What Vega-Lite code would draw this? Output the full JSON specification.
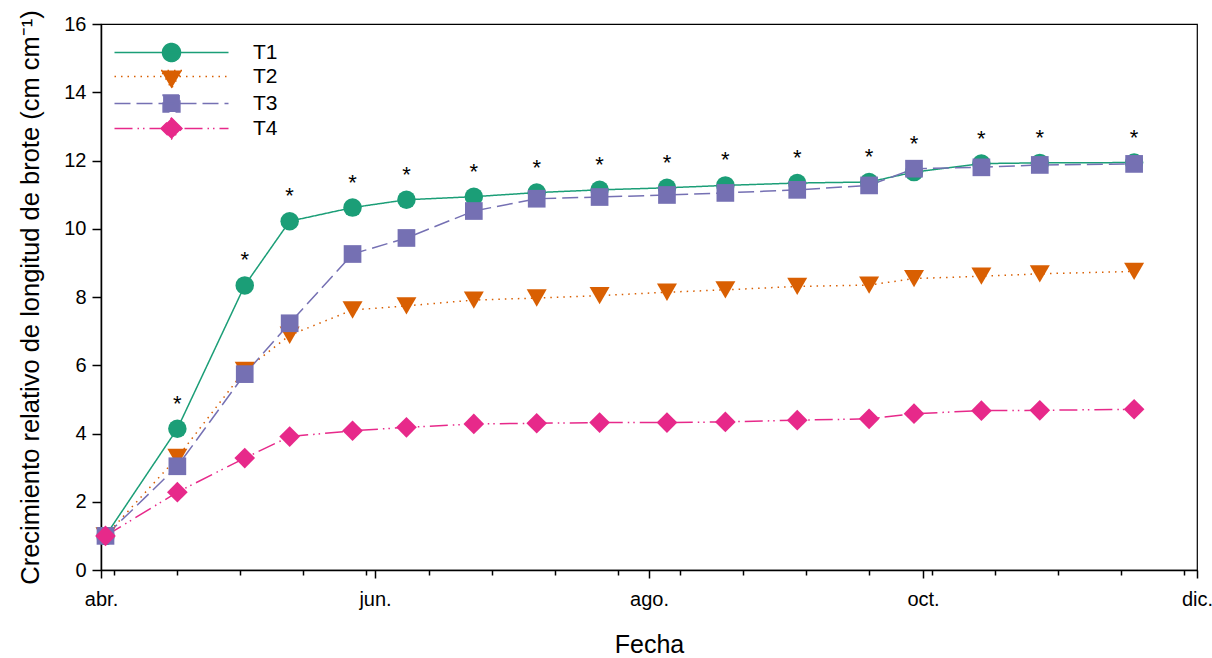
{
  "$schema": "https://vega.github.io/schema/vega-lite/v6.json",
  "width": 1096,
  "height": 546,
  "autosize": {"type": "none"},
  "padding": {"left": 101, "top": 24, "right": 15, "bottom": 88},
  "background": "white",
  "config": {
    "font": "Liberation Sans",
    "view": {"stroke": "black", "strokeWidth": 1.2},
    "axis": {
      "grid": false,
      "domainColor": "black",
      "domainWidth": 1.5,
      "tickColor": "black",
      "tickWidth": 1.5,
      "labelColor": "black",
      "labelFont": "Liberation Sans",
      "labelFontSize": 20,
      "titleFont": "Liberation Sans",
      "titleFontSize": 25,
      "titleFontWeight": "normal",
      "titleColor": "black"
    }
  },
  "data": {
    "values": [
      {"fecha": "2021-04-02T00:00", "trat": "T1", "valor": 1.0, "sig": ""},
      {"fecha": "2021-04-18T00:00", "trat": "T1", "valor": 4.14, "sig": "*"},
      {"fecha": "2021-05-03T00:00", "trat": "T1", "valor": 8.34, "sig": "*"},
      {"fecha": "2021-05-13T00:00", "trat": "T1", "valor": 10.22, "sig": "*"},
      {"fecha": "2021-05-27T00:00", "trat": "T1", "valor": 10.62, "sig": "*"},
      {"fecha": "2021-06-08T00:00", "trat": "T1", "valor": 10.85, "sig": "*"},
      {"fecha": "2021-06-23T00:00", "trat": "T1", "valor": 10.94, "sig": "*"},
      {"fecha": "2021-07-07T00:00", "trat": "T1", "valor": 11.06, "sig": "*"},
      {"fecha": "2021-07-21T00:00", "trat": "T1", "valor": 11.14, "sig": "*"},
      {"fecha": "2021-08-05T00:00", "trat": "T1", "valor": 11.2, "sig": "*"},
      {"fecha": "2021-08-18T00:00", "trat": "T1", "valor": 11.27, "sig": "*"},
      {"fecha": "2021-09-03T00:00", "trat": "T1", "valor": 11.34, "sig": "*"},
      {"fecha": "2021-09-19T00:00", "trat": "T1", "valor": 11.37, "sig": "*"},
      {"fecha": "2021-09-29T00:00", "trat": "T1", "valor": 11.66, "sig": "*"},
      {"fecha": "2021-10-14T00:00", "trat": "T1", "valor": 11.91, "sig": "*"},
      {"fecha": "2021-10-27T00:00", "trat": "T1", "valor": 11.93, "sig": "*"},
      {"fecha": "2021-11-17T00:00", "trat": "T1", "valor": 11.94, "sig": "*"},

      {"fecha": "2021-04-02T00:00", "trat": "T2", "valor": 1.0, "sig": ""},
      {"fecha": "2021-04-18T00:00", "trat": "T2", "valor": 3.3, "sig": ""},
      {"fecha": "2021-05-03T00:00", "trat": "T2", "valor": 5.85, "sig": ""},
      {"fecha": "2021-05-13T00:00", "trat": "T2", "valor": 6.88, "sig": ""},
      {"fecha": "2021-05-27T00:00", "trat": "T2", "valor": 7.62, "sig": ""},
      {"fecha": "2021-06-08T00:00", "trat": "T2", "valor": 7.74, "sig": ""},
      {"fecha": "2021-06-23T00:00", "trat": "T2", "valor": 7.91, "sig": ""},
      {"fecha": "2021-07-07T00:00", "trat": "T2", "valor": 7.97, "sig": ""},
      {"fecha": "2021-07-21T00:00", "trat": "T2", "valor": 8.04, "sig": ""},
      {"fecha": "2021-08-05T00:00", "trat": "T2", "valor": 8.14, "sig": ""},
      {"fecha": "2021-08-18T00:00", "trat": "T2", "valor": 8.21, "sig": ""},
      {"fecha": "2021-09-03T00:00", "trat": "T2", "valor": 8.31, "sig": ""},
      {"fecha": "2021-09-19T00:00", "trat": "T2", "valor": 8.35, "sig": ""},
      {"fecha": "2021-09-29T00:00", "trat": "T2", "valor": 8.54, "sig": ""},
      {"fecha": "2021-10-14T00:00", "trat": "T2", "valor": 8.61, "sig": ""},
      {"fecha": "2021-10-27T00:00", "trat": "T2", "valor": 8.68, "sig": ""},
      {"fecha": "2021-11-17T00:00", "trat": "T2", "valor": 8.75, "sig": ""},

      {"fecha": "2021-04-02T00:00", "trat": "T3", "valor": 1.0, "sig": ""},
      {"fecha": "2021-04-18T00:00", "trat": "T3", "valor": 3.04, "sig": ""},
      {"fecha": "2021-05-03T00:00", "trat": "T3", "valor": 5.74, "sig": ""},
      {"fecha": "2021-05-13T00:00", "trat": "T3", "valor": 7.23, "sig": ""},
      {"fecha": "2021-05-27T00:00", "trat": "T3", "valor": 9.26, "sig": ""},
      {"fecha": "2021-06-08T00:00", "trat": "T3", "valor": 9.73, "sig": ""},
      {"fecha": "2021-06-23T00:00", "trat": "T3", "valor": 10.52, "sig": ""},
      {"fecha": "2021-07-07T00:00", "trat": "T3", "valor": 10.88, "sig": ""},
      {"fecha": "2021-07-21T00:00", "trat": "T3", "valor": 10.93, "sig": ""},
      {"fecha": "2021-08-05T00:00", "trat": "T3", "valor": 10.99, "sig": ""},
      {"fecha": "2021-08-18T00:00", "trat": "T3", "valor": 11.05, "sig": ""},
      {"fecha": "2021-09-03T00:00", "trat": "T3", "valor": 11.14, "sig": ""},
      {"fecha": "2021-09-19T00:00", "trat": "T3", "valor": 11.27, "sig": ""},
      {"fecha": "2021-09-29T00:00", "trat": "T3", "valor": 11.76, "sig": ""},
      {"fecha": "2021-10-14T00:00", "trat": "T3", "valor": 11.8, "sig": ""},
      {"fecha": "2021-10-27T00:00", "trat": "T3", "valor": 11.87, "sig": ""},
      {"fecha": "2021-11-17T00:00", "trat": "T3", "valor": 11.9, "sig": ""},

      {"fecha": "2021-04-02T00:00", "trat": "T4", "valor": 1.0, "sig": ""},
      {"fecha": "2021-04-18T00:00", "trat": "T4", "valor": 2.28, "sig": ""},
      {"fecha": "2021-05-03T00:00", "trat": "T4", "valor": 3.28, "sig": ""},
      {"fecha": "2021-05-13T00:00", "trat": "T4", "valor": 3.91, "sig": ""},
      {"fecha": "2021-05-27T00:00", "trat": "T4", "valor": 4.08, "sig": ""},
      {"fecha": "2021-06-08T00:00", "trat": "T4", "valor": 4.18, "sig": ""},
      {"fecha": "2021-06-23T00:00", "trat": "T4", "valor": 4.28, "sig": ""},
      {"fecha": "2021-07-07T00:00", "trat": "T4", "valor": 4.3, "sig": ""},
      {"fecha": "2021-07-21T00:00", "trat": "T4", "valor": 4.32, "sig": ""},
      {"fecha": "2021-08-05T00:00", "trat": "T4", "valor": 4.32, "sig": ""},
      {"fecha": "2021-08-18T00:00", "trat": "T4", "valor": 4.34, "sig": ""},
      {"fecha": "2021-09-03T00:00", "trat": "T4", "valor": 4.39, "sig": ""},
      {"fecha": "2021-09-19T00:00", "trat": "T4", "valor": 4.43, "sig": ""},
      {"fecha": "2021-09-29T00:00", "trat": "T4", "valor": 4.58, "sig": ""},
      {"fecha": "2021-10-14T00:00", "trat": "T4", "valor": 4.67, "sig": ""},
      {"fecha": "2021-10-27T00:00", "trat": "T4", "valor": 4.68, "sig": ""},
      {"fecha": "2021-11-17T00:00", "trat": "T4", "valor": 4.71, "sig": ""}
    ]
  },
  "encoding": {
    "x": {
      "field": "fecha",
      "type": "temporal",
      "title": "Fecha",
      "scale": {
        "domain": [
          {"year": 2021, "month": 4, "date": 1},
          {"year": 2021, "month": 12, "date": 1}
        ],
        "nice": false
      },
      "axis": {
        "values": [
          {"year": 2021, "month": 4, "date": 1},
          {"year": 2021, "month": 4, "date": 4},
          {"year": 2021, "month": 4, "date": 18},
          {"year": 2021, "month": 5, "date": 2},
          {"year": 2021, "month": 5, "date": 16},
          {"year": 2021, "month": 5, "date": 30},
          {"year": 2021, "month": 6, "date": 1},
          {"year": 2021, "month": 6, "date": 13},
          {"year": 2021, "month": 6, "date": 27},
          {"year": 2021, "month": 7, "date": 11},
          {"year": 2021, "month": 7, "date": 25},
          {"year": 2021, "month": 8, "date": 1},
          {"year": 2021, "month": 8, "date": 8},
          {"year": 2021, "month": 8, "date": 22},
          {"year": 2021, "month": 9, "date": 5},
          {"year": 2021, "month": 9, "date": 19},
          {"year": 2021, "month": 10, "date": 1},
          {"year": 2021, "month": 10, "date": 3},
          {"year": 2021, "month": 10, "date": 17},
          {"year": 2021, "month": 10, "date": 31},
          {"year": 2021, "month": 11, "date": 14},
          {"year": 2021, "month": 11, "date": 28},
          {"year": 2021, "month": 12, "date": 1}
        ],
        "labelExpr": "date(datum.value) === 1 ? ['ene.','feb.','mar.','abr.','may.','jun.','jul.','ago.','sep.','oct.','nov.','dic.'][month(datum.value)] : ''",
        "labelOverlap": false,
        "labelFlush": false,
        "tickSize": {"condition": {"test": "date(datum.value) === 1", "value": 8}, "value": 5},
        "labelPadding": 11,
        "titlePadding": 23
      }
    },
    "y": {
      "field": "valor",
      "type": "quantitative",
      "title": "Crecimiento relativo de longitud de brote (cm cm⁻¹)",
      "scale": {"domain": [0, 16], "nice": false, "zero": true},
      "axis": {
        "values": [0, 2, 4, 6, 8, 10, 12, 14, 16],
        "tickSize": 9,
        "labelPadding": 6,
        "titlePadding": 20,
        "titleFontSize": 25.5
      }
    }
  },
  "layer": [
    {
      "mark": {"type": "line", "strokeWidth": 1.5},
      "encoding": {
        "color": {
          "field": "trat",
          "type": "nominal",
          "scale": {"domain": ["T1", "T2", "T3", "T4"], "range": ["#1b9e77", "#d95f02", "#7570b3", "#e7298a"]},
          "legend": {
            "title": null,
            "orient": "none",
            "legendX": 60,
            "legendY": 18,
            "padding": 0,
            "symbolSize": 4,
            "labelFont": "Liberation Sans",
            "labelFontSize": 21,
            "labelColor": "black",
            "labelOffset": 71,
            "rowPadding": 0,
            "encode": {
              "symbols": {
                "update": {
                  "shape": {"signal": "datum.value === 'T1' ? 'M-57,0H57M9,0A9,9 0 1 1 -9,0A9,9 0 1 1 9,0Z' : datum.value === 'T2' ? 'M-57,0H57M-10.5,-6H10.5L0,12Z' : datum.value === 'T3' ? 'M-57,0H57M-8.4,-8.4H8.4V8.4H-8.4Z' : 'M-57,0H57M0,-10.5L10.5,0L0,10.5L-10.5,0Z'"},
                  "strokeWidth": {"value": 1.5},
                  "size": {"value": 4},
                  "opacity": {"value": 1}
                }
              }
            }
          }
        },
        "strokeDash": {
          "field": "trat",
          "type": "nominal",
          "scale": {"domain": ["T1", "T2", "T3", "T4"], "range": [[1, 0], [1.5, 5], [16, 6], [18, 5, 1.5, 4, 1.5, 5]]}
        }
      }
    },
    {
      "transform": [{"filter": "datum.trat === 'T1'"}],
      "mark": {"type": "point", "filled": true, "opacity": 1, "shape": "circle", "size": 342},
      "encoding": {"color": {"field": "trat", "type": "nominal"}}
    },
    {
      "transform": [{"filter": "datum.trat === 'T2'"}],
      "mark": {"type": "point", "filled": true, "opacity": 1, "shape": "triangle-down", "size": 400},
      "encoding": {"color": {"field": "trat", "type": "nominal"}}
    },
    {
      "transform": [{"filter": "datum.trat === 'T3'"}],
      "mark": {"type": "point", "filled": true, "opacity": 1, "shape": "square", "size": 313},
      "encoding": {"color": {"field": "trat", "type": "nominal"}}
    },
    {
      "transform": [{"filter": "datum.trat === 'T4'"}],
      "mark": {"type": "point", "filled": true, "opacity": 1, "shape": "diamond", "size": 428},
      "encoding": {"color": {"field": "trat", "type": "nominal"}}
    },
    {
      "transform": [
        {"joinaggregate": [{"op": "max", "field": "valor", "as": "maximo"}], "groupby": ["fecha"]},
        {"filter": "datum.trat === 'T1' && datum.sig === '*'"}
      ],
      "mark": {"type": "text", "font": "Liberation Sans", "fontSize": 22, "color": "black", "baseline": "alphabetic", "dy": -18},
      "encoding": {
        "y": {"field": "maximo", "type": "quantitative"},
        "text": {"field": "sig"}
      }
    }
  ]
}
